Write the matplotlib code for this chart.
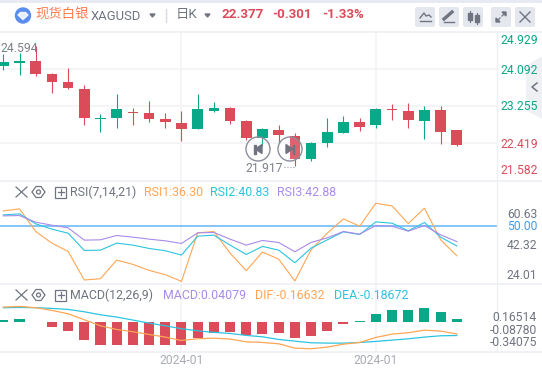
import matplotlib
matplotlib.use('Agg')
import matplotlib.pyplot as plt
from matplotlib.patches import Circle, FancyBboxPatch, Polygon, Rectangle

plt.rcParams['font.family'] = ['Roboto', 'Noto Sans CJK SC', 'DejaVu Sans']

W, H = 542, 373
RED = '#db4c5a'
GREEN = '#09a888'
ORANGE = '#ffa655'
CYAN = '#2cc4e0'
PURPLE = '#a98bea'
GREY = '#6f7480'
GRID = '#f3f4f7'

opens = [24.148, 24.215, 24.259, 23.969, 23.791, 23.634, 22.965, 22.987, 23.121, 23.099,
         22.965, 22.876, 22.742, 23.143, 23.210, 22.920, 22.541, 22.719, 22.585, 22.072,
         22.429, 22.652, 22.898, 22.831, 23.188, 23.143, 22.920, 23.166, 22.719]
closes = [24.237, 24.259, 23.969, 23.791, 23.657, 22.987, 22.987, 23.188, 23.099, 22.965,
          22.898, 22.742, 23.188, 23.210, 22.920, 22.541, 22.742, 22.608, 22.072, 22.429,
          22.675, 22.898, 22.786, 23.188, 23.166, 22.943, 23.166, 22.675, 22.377]
highs = [24.416, 24.431, 24.594, 23.992, 24.103, 23.724, 23.076, 23.523, 23.210, 23.367,
         23.099, 23.143, 23.523, 23.344, 23.233, 22.943, 22.764, 22.831, 22.645, 22.451,
         22.987, 23.032, 22.987, 23.210, 23.300, 23.322, 23.255, 23.255, 22.719]
lows = [24.059, 23.947, 23.925, 23.545, 23.634, 22.831, 22.675, 22.764, 22.831, 22.898,
        22.764, 22.474, 22.742, 23.121, 22.853, 22.496, 22.362, 22.422, 21.917, 22.027,
        22.340, 22.652, 22.697, 22.764, 22.943, 22.764, 22.518, 22.407, 22.362]

rsi1 = [57.08, 58.00, 47.54, 42.15, 38.31, 25.08, 25.69, 34.31, 32.31, 29.54,
        27.54, 24.46, 46.92, 47.54, 37.54, 29.38, 38.00, 34.77, 24.62, 39.08,
        46.77, 53.38, 50.00, 60.63, 59.38, 51.23, 58.31, 43.69, 36.30]
rsi2 = [55.23, 55.69, 51.08, 48.62, 46.77, 38.77, 38.92, 42.15, 41.23, 39.69,
        38.62, 36.62, 45.38, 45.85, 41.23, 36.92, 40.62, 38.92, 33.08, 39.85,
        43.69, 47.38, 46.15, 52.00, 51.38, 47.85, 51.69, 44.92, 40.83]
rsi3 = [54.77, 54.92, 51.85, 50.46, 49.23, 43.54, 43.69, 45.69, 44.92, 44.00,
        43.23, 42.00, 46.92, 47.08, 44.00, 41.23, 43.38, 42.46, 38.15, 42.46,
        44.62, 47.54, 46.31, 50.31, 50.00, 47.69, 50.31, 46.00, 42.88]

macd = [0.027, 0.041, -0.009, -0.068, -0.123, -0.245, -0.314, -0.314, -0.314, -0.314,
        -0.314, -0.314, -0.218, -0.150, -0.136, -0.177, -0.164, -0.150, -0.218, -0.191,
        -0.123, -0.027, 0.009, 0.109, 0.164, 0.164, 0.191, 0.136, 0.041]
dif = [0.200, 0.209, 0.191, 0.155, 0.109, 0.027, -0.055, -0.105, -0.136, -0.173,
       -0.209, -0.255, -0.232, -0.223, -0.236, -0.273, -0.282, -0.300, -0.359, -0.368,
       -0.345, -0.305, -0.282, -0.214, -0.168, -0.150, -0.114, -0.127, -0.166]
dea = [0.191, 0.195, 0.191, 0.182, 0.168, 0.136, 0.095, 0.064, 0.023, -0.018,
       -0.055, -0.095, -0.123, -0.145, -0.159, -0.186, -0.205, -0.241, -0.264, -0.286,
       -0.291, -0.291, -0.282, -0.268, -0.250, -0.232, -0.209, -0.191, -0.187]

price_grid = [24.092, 23.255, 22.419]
month_idx = [11, 23]
month_labels = ['2024-01', '2024-01']
idx = list(range(len(opens)))


def make_axes(fig, top, bottom):
    ax = fig.add_axes([0, 1 - bottom / H, 497 / W, (bottom - top) / H])
    ax.set_xlim(-0.204, 30.48)
    ax.set_xticks([])
    ax.set_yticks([])
    for s in ax.spines.values():
        s.set_visible(False)
    for m in month_idx:
        ax.axvline(m, color=GRID, lw=1.2, zorder=0)
    return ax


fig = plt.figure(figsize=(W / 100, H / 100), dpi=100)

# candles
ax = make_axes(fig, 32, 181)
ax.set_ylim(21.581, 24.907)
for g in price_grid:
    ax.axhline(g, color=GRID, lw=1.2, zorder=0)
colors = [GREEN if c >= o else RED for o, c in zip(opens, closes)]
ax.vlines(idx, lows, highs, colors=colors, lw=0.8, zorder=2)
ax.bar(idx, [max(abs(c - o), 0.012) for o, c in zip(opens, closes)],
       bottom=[min(o, c) for o, c in zip(opens, closes)],
       width=0.66, color=colors, zorder=3)

# rsi
ax2 = make_axes(fig, 181, 284)
ax2.set_ylim(23.23, 70.92)
ax2.plot(idx, rsi1, color=ORANGE, lw=0.8)
ax2.plot(idx, rsi2, color=CYAN, lw=0.8)
ax2.plot(idx, rsi3, color=PURPLE, lw=0.8)
ax2.axhline(50, color='#64b5f6', lw=1.1, zorder=1)

# macd
ax3 = make_axes(fig, 284, 351.5)
ax3.set_ylim(-0.405, 0.514)
ax3.bar(idx, macd, width=0.62, color=[GREEN if m >= 0 else RED for m in macd], zorder=2)
ax3.plot(idx, dea, color=CYAN, lw=0.9, zorder=3)
ax3.plot(idx, dif, color=ORANGE, lw=0.9, zorder=3)

# header, labels and buttons, placed in pixels
top = fig.add_axes([0, 0, 1, 1], zorder=10)
top.set_xlim(0, W)
top.set_ylim(H, 0)
top.axis('off')
top.patch.set_alpha(0)

for y in (32, 181, 284, 351.5):
    top.plot([0, W], [y, y], color='#eef0f4', lw=1.2)
top.plot([497, 497], [32, 351.5], color='#eef0f4', lw=1)
top.plot([0, W], [0.5, 0.5], color='#e6e9f2', lw=2)


def label(x, y, s, color=GREY, size=8.7, ha='left', **kw):
    top.text(x, y, s, color=color, fontsize=size, ha=ha, va='center', **kw)


top.add_patch(Circle((23, 15.5), 7.5, color='#5b8def'))
top.add_patch(Polygon([(18, 15), (20.5, 12.5), (25.5, 12.5), (28, 15), (23, 19.5)], color='white', alpha=0.85))
label(35, 14.5, '现货白银', color='#ff7d4d', size=9.6)
label(91, 16, 'XAGUSD', size=9.4)
top.add_patch(Polygon([(150, 14), (155, 14), (152.5, 17)], color=GREY))
top.plot([166, 166], [9, 22], color='#d9dbe2', lw=1)
label(176, 14.5, '日K', size=9.6)
top.add_patch(Polygon([(205, 14), (210, 14), (207.5, 17)], color=GREY))
label(222, 14.5, '22.377', color=RED, size=9.6, fontweight='bold')
label(272, 14.5, '-0.301', color=RED, size=9.6, fontweight='bold')
label(322, 14.5, '-1.33%', color=RED, size=9.6, fontweight='bold')

for x in (415, 439, 463, 491, 515):
    top.add_patch(FancyBboxPatch((x + 2, 9), 16, 16, boxstyle='round,pad=2', color='#e5e7ef', lw=0))
top.plot([420, 424, 426, 429, 431], [18, 13, 16, 15, 17], color=GREY, lw=1)
top.plot([420, 431], [21, 21], color=GREY, lw=1)
top.plot([444, 452], [19, 12], color=GREY, lw=2.4)
top.plot([444, 454], [21.5, 21.5], color=GREY, lw=1)
top.add_patch(Rectangle((468, 13), 3.5, 7, color=GREY))
top.add_patch(Rectangle((475, 15), 3.5, 7, color=GREY))
top.plot([469.7, 469.7], [11, 22], color=GREY, lw=0.8)
top.plot([476.7, 476.7], [13, 24], color=GREY, lw=0.8)
top.add_patch(Polygon([(496, 22), (496, 18), (500, 22)], color=GREY))
top.add_patch(Polygon([(506, 12), (506, 16), (502, 12)], color=GREY))
top.plot([498, 500], [20, 18], [504, 502], [14, 16], color=GREY, lw=0.9)
top.plot([520, 530], [12, 22], [520, 530], [22, 12], color=GREY, lw=1)
top.add_patch(Polygon([(542, 57), (527, 66), (527, 110), (542, 118)], color='#eff0f4'))
top.plot([537, 532, 537], [83, 87, 91], color=GREY, lw=1.1)

for y, s, c in [(40, '24.929', GREEN), (70, '24.092', GREEN), (107, '23.255', GREEN),
                (145, '22.419', RED), (171, '21.582', RED)]:
    label(538, y, s, color=c, ha='right')

label(0, 48.5, '24.594', color='#7c808a')
label(245, 168, '21.917', color='#7c808a')
top.plot([284, 295], [166.5, 166.5], color='#9a9da6', lw=0.8, ls=':')

for cx in (258, 290):
    top.add_patch(Circle((cx, 149), 12, facecolor='#ffffff22', edgecolor='#8b8f9a', lw=1))
top.add_patch(Polygon([(262, 144.5), (262, 153.5), (255.5, 149)], color=GREY))
top.add_patch(Rectangle((254, 144.5), 1.5, 9, color=GREY))
top.add_patch(Polygon([(286, 144.5), (286, 153.5), (292.5, 149)], color=GREY))
top.add_patch(Rectangle((292.5, 144.5), 1.5, 9, color=GREY))

# panel titles
for y, name, x_name in [(192, 'RSI(7,14,21)', 70), (295, 'MACD(12,26,9)', 70)]:
    top.plot([16, 27], [y - 5, y + 5], [16, 27], [y + 5, y - 5], color=GREY, lw=0.9)
    top.add_patch(Polygon([(36, y - 5.5), (41, y - 5.5), (45, y), (41, y + 5.5), (36, y + 5.5), (32, y)],
                          fill=False, edgecolor=GREY, lw=0.9))
    top.add_patch(Circle((38.5, y), 2, fill=False, edgecolor=GREY, lw=0.9))
    top.add_patch(Rectangle((55, y - 5.5), 11, 11, fill=False, edgecolor=GREY, lw=0.9))
    top.plot([57.5, 63.5], [y, y], [60.5, 60.5], [y - 3, y + 3], color=GREY, lw=0.9)
    label(x_name, y, name, size=8.9)

label(144, 192.5, 'RSI1:36.30', color=ORANGE, size=8.9)
label(210, 192.5, 'RSI2:40.83', color=CYAN, size=8.9)
label(277, 192.5, 'RSI3:42.88', color=PURPLE, size=8.9)
label(163, 295.5, 'MACD:0.04079', color=PURPLE, size=8.9)
label(255, 295.5, 'DIF:-0.16632', color=ORANGE, size=8.9)
label(334, 295.5, 'DEA:-0.18672', color=CYAN, size=8.9)

for y, s, c in [(215, '60.63', GREY), (226.5, '50.00', '#3f9df0'), (245.5, '42.32', GREY), (275.5, '24.01', GREY),
                (317.5, '0.16514', GREY), (330.5, '-0.08780', GREY), (342.5, '-0.34075', GREY)]:
    label(537, y, s, color=c, ha='right')

for m, s in zip(month_idx, month_labels):
    label(3.3 + 16.2 * m, 360, s, color='#a9acb5', ha='center')

fig.savefig('out.png', dpi=100)
